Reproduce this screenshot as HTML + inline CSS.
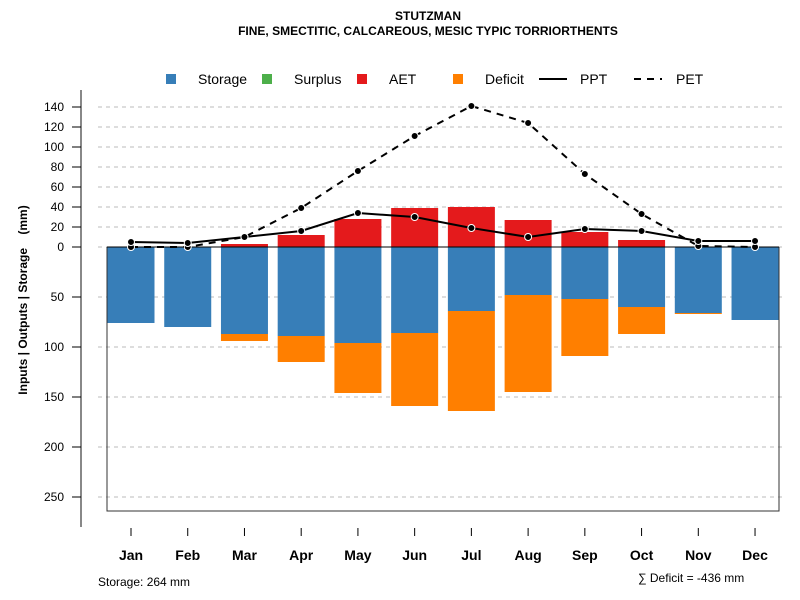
<!DOCTYPE html>
<html><head><meta charset="utf-8"><style>
body{margin:0;background:#fff;}
svg{display:block;font-family:"Liberation Sans",sans-serif;}
</style></head><body>
<svg id="chart" width="800" height="600" xmlns="http://www.w3.org/2000/svg">
<text x="428" y="20" text-anchor="middle" font-size="12" font-weight="bold">STUTZMAN</text>
<text x="428" y="35" text-anchor="middle" font-size="12" font-weight="bold">FINE, SMECTITIC, CALCAREOUS, MESIC TYPIC TORRIORTHENTS</text>
<g id="legend" font-size="14">
<rect x="166" y="74" width="10" height="10" fill="#377EB8"/>
<text x="198" y="84">Storage</text>
<rect x="262" y="74" width="10" height="10" fill="#4DAF4A"/>
<text x="294" y="84">Surplus</text>
<rect x="357" y="74" width="10" height="10" fill="#E41A1C"/>
<text x="389" y="84">AET</text>
<rect x="453" y="74" width="10" height="10" fill="#FF7F00"/>
<text x="485" y="84">Deficit</text>
<line x1="539" y1="79" x2="567" y2="79" stroke="#000" stroke-width="2"/>
<text x="580" y="84">PPT</text>
<line x1="634" y1="79" x2="662" y2="79" stroke="#000" stroke-width="2" stroke-dasharray="7,6"/>
<text x="676" y="84">PET</text>
</g>
<text transform="translate(27,300) rotate(-90)" text-anchor="middle" font-size="12" font-weight="bold">Inputs | Outputs | Storage &#160;&#160;&#160;(mm)</text>
<text x="98" y="586" font-size="12">Storage: 264 mm</text>
<text x="638" y="582" font-size="12">∑ Deficit = -436 mm</text>
</svg>
<script>
const months=["Jan","Feb","Mar","Apr","May","Jun","Jul","Aug","Sep","Oct","Nov","Dec"];
const storage=[76,80,87,89,96,86,64,48,52,60,66,73];
const deficit=[0,0,7,26,50,73,100,97,57,27,1,0];
const aet=[0,0,3,12,28,39,40,27,15,7,0,0];
const ppt=[5,4,10,16,34,30,19,10,18,16,6,6];
const pet=[0,0,10,39,76,111,141,124,73,33,1,0];
const posTicks=[0,20,40,60,80,100,120,140];
const negTicks=[50,100,150,200,250];
const storageTotal=264;

const svg=document.getElementById('chart');
const NS='http://www.w3.org/2000/svg';
function mk(tag,attrs,parent){const e=document.createElementNS(NS,tag);for(const k in attrs)e.setAttribute(k,attrs[k]);(parent||svg).appendChild(e);return e;}
const y0=247;
function yUp(v){return y0-v;}
function yDown(v){return y0+v;}
function xC(i){return 131+i*56.73;}
const bw=47;

posTicks.forEach(t=>{
 const g=mk('line',{x1:98,x2:785,y1:yUp(t),y2:yUp(t),stroke:'#bbb','stroke-dasharray':'4,4'});
 
 
});
negTicks.forEach(t=>{
 const g=mk('line',{x1:98,x2:785,y1:yDown(t),y2:yDown(t),stroke:'#bbb','stroke-dasharray':'4,4'});
 
 
});
months.forEach((m,i)=>{
 const x=xC(i)-bw/2;
 const s=mk('rect',{x:x,y:y0,width:bw,height:storage[i],fill:'#377EB8'});
 
 
 if(deficit[i]>0){
  const d=mk('rect',{x:x,y:yDown(storage[i]),width:bw,height:deficit[i],fill:'#FF7F00'});
  
  
 }
 if(aet[i]>0){
  const a=mk('rect',{x:x,y:yUp(aet[i]),width:bw,height:aet[i],fill:'#E41A1C'});
  
  
 }
});
const box=mk('path',{d:`M107 ${y0} V${yDown(storageTotal)} H779 V${y0}`,fill:'none',stroke:'#333','stroke-width':1});


const zl=mk('line',{x1:107,x2:779,y1:y0,y2:y0,stroke:'#000','stroke-width':1});


const petL=mk('polyline',{points:pet.map((v,i)=>xC(i)+','+yUp(v)).join(' '),fill:'none',stroke:'#000','stroke-width':2,'stroke-dasharray':'7,6'});


const pptL=mk('polyline',{points:ppt.map((v,i)=>xC(i)+','+yUp(v)).join(' '),fill:'none',stroke:'#000','stroke-width':2});


pet.forEach((v,i)=>{
 const c=mk('circle',{cx:xC(i),cy:yUp(v),r:3.5,fill:'#000',stroke:'#fff','stroke-width':1});
 
 
});
ppt.forEach((v,i)=>{
 const c=mk('circle',{cx:xC(i),cy:yUp(v),r:3.5,fill:'#000',stroke:'#fff','stroke-width':1});
 
 
});
const ya=mk('line',{x1:81,x2:81,y1:90,y2:527,stroke:'#888','stroke-width':2});


function ytick(y,label){
 const t=mk('line',{x1:72,x2:81,y1:y,y2:y,stroke:'#000'});
 
 
 const l=mk('text',{x:64,y:y+4,'text-anchor':'end','font-size':12});
 l.textContent=label;
 
 
}
posTicks.forEach(t=>ytick(yUp(t),t));
negTicks.forEach(t=>ytick(yDown(t),t));
months.forEach((m,i)=>{
 const t=mk('line',{x1:xC(i),x2:xC(i),y1:528,y2:536,stroke:'#000'});
 
 
 const l=mk('text',{x:xC(i),y:560,'text-anchor':'middle','font-size':14,'font-weight':'bold'});
 l.textContent=m;
 
 
});
</script>
</body></html>
